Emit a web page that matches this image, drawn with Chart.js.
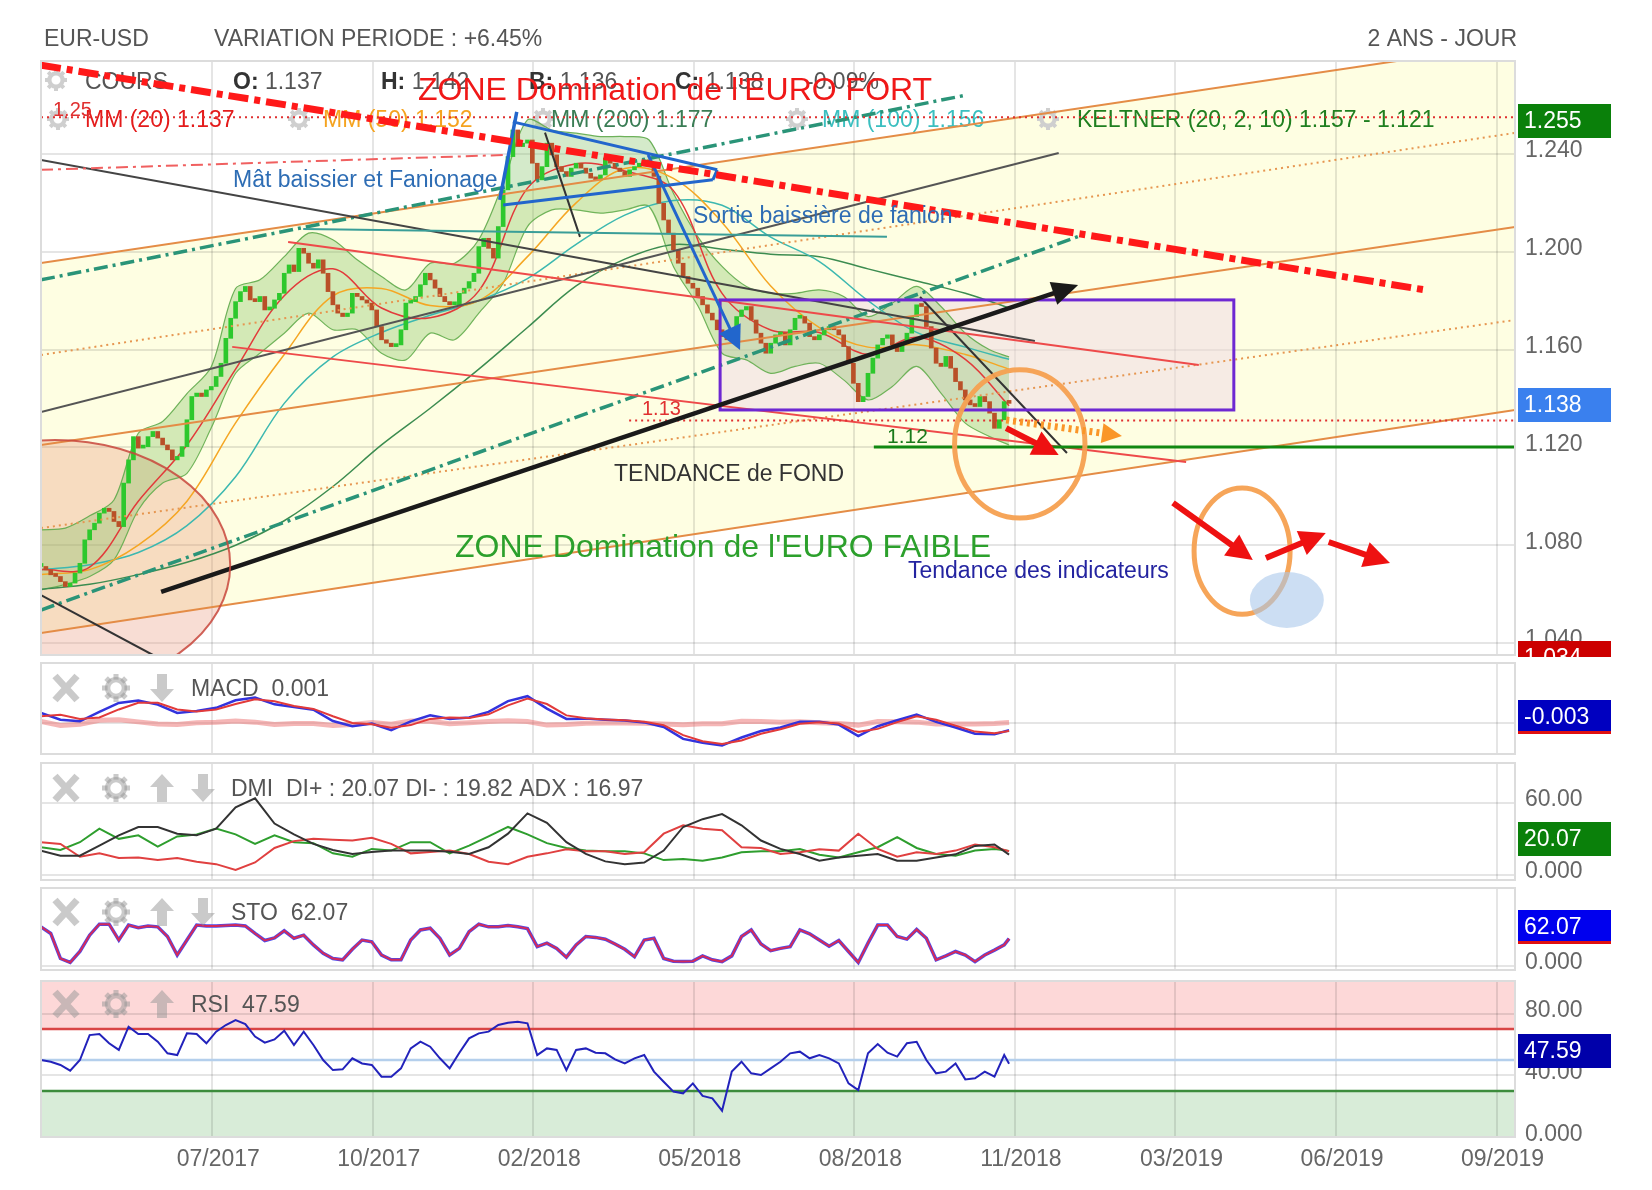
<!DOCTYPE html>
<html>
<head>
<meta charset="utf-8">
<title>EUR-USD</title>
<script src="https://cdn.jsdelivr.net/npm/chart.js@4.4.1/dist/chart.umd.min.js"></script>
<style>
  html, body { margin: 0; padding: 0; background: #fff; }
  #wrap { position: relative; width: 1652px; height: 1190px; overflow: hidden; }
  #wrap canvas { position: absolute; left: 0; top: 0; }
</style>
</head>
<body>
<div id="wrap">
  <canvas id="cMain" width="1652" height="1190"></canvas>
  <canvas id="cMacd" width="1652" height="1190"></canvas>
  <canvas id="cDmi" width="1652" height="1190"></canvas>
  <canvas id="cSto" width="1652" height="1190"></canvas>
  <canvas id="cRsi" width="1652" height="1190"></canvas>
</div>
<script>
// ---------- data (x = candle index, one candle = 2 trading days) ----------
const xLabels = ['07/2017', '10/2017', '02/2018', '05/2018', '08/2018', '11/2018', '03/2019', '06/2019', '09/2019'];
const xGrid = [35.2, 68.2, 101.2, 134.2, 167.2, 200.2, 233.2, 266.2, 299.2];
const priceTicks = [1.04, 1.08, 1.12, 1.16, 1.20, 1.24];

const closes = [
  1.0713, 1.0699, 1.0679, 1.0672, 1.0651, 1.0631, 1.0645, 1.0686, 1.0726, 1.0822,
  1.0863, 1.0890, 1.0931, 1.0951, 1.0938, 1.0897, 1.0876, 1.1054, 1.1149, 1.1244,
  1.1197, 1.1203, 1.1244, 1.1265, 1.1238, 1.1210, 1.1190, 1.1149, 1.1163, 1.1203,
  1.1313, 1.1408, 1.1422, 1.1408, 1.1435, 1.1449, 1.1490, 1.1544, 1.1646, 1.1728,
  1.1796, 1.1837, 1.1858, 1.1803, 1.1796, 1.1817, 1.1762, 1.1769, 1.1803, 1.1830,
  1.1912, 1.1946, 1.1919, 1.2014, 1.1994, 1.1953, 1.1933, 1.1967, 1.1912, 1.1837,
  1.1783, 1.1749, 1.1735, 1.1749, 1.1830, 1.1817, 1.1803, 1.1790, 1.1762, 1.1694,
  1.1640, 1.1626, 1.1612, 1.1619, 1.1681, 1.1790, 1.1796, 1.1817, 1.1865, 1.1912,
  1.1885, 1.1851, 1.1817, 1.1796, 1.1783, 1.1783, 1.1830, 1.1851, 1.1878, 1.1912,
  1.2021, 1.2055, 1.2014, 1.1974, 1.2103, 1.2253, 1.2389, 1.2498, 1.2430, 1.2444,
  1.2457, 1.2362, 1.2294, 1.2348, 1.2444, 1.2396, 1.2348, 1.2328, 1.2308, 1.2342,
  1.2362, 1.2342, 1.2321, 1.2301, 1.2294, 1.2314, 1.2383, 1.2362, 1.2342, 1.2328,
  1.2308, 1.2335, 1.2348, 1.2362, 1.2376, 1.2355, 1.2308, 1.2198, 1.2130, 1.2076,
  1.2008, 1.1953, 1.1899, 1.1871, 1.1851, 1.1817, 1.1783, 1.1749, 1.1721, 1.1681,
  1.1653, 1.1640, 1.1681, 1.1735, 1.1762, 1.1776, 1.1721, 1.1667, 1.1626, 1.1585,
  1.1626, 1.1660, 1.1667, 1.1619, 1.1681, 1.1728, 1.1735, 1.1708, 1.1653, 1.1640,
  1.1660, 1.1681, 1.1694, 1.1681, 1.1660, 1.1612, 1.1544, 1.1462, 1.1387, 1.1408,
  1.1503, 1.1565, 1.1619, 1.1646, 1.1660, 1.1619, 1.1592, 1.1626, 1.1667, 1.1735,
  1.1783, 1.1776, 1.1694, 1.1606, 1.1544, 1.1531, 1.1572, 1.1524, 1.1469, 1.1435,
  1.1394, 1.1374, 1.1367, 1.1408, 1.1387, 1.1340, 1.1278, 1.1313, 1.1387, 1.1380
];

const maIdx = [0, 10, 20, 30, 40, 50, 60, 70, 80, 90, 100, 110, 120, 130, 140, 150, 160, 170, 180, 190, 199];
const mm20 = [1.070, 1.071, 1.098, 1.121, 1.152, 1.182, 1.193, 1.177, 1.173, 1.184, 1.226, 1.236, 1.233, 1.225, 1.183, 1.168, 1.167, 1.158, 1.165, 1.156, 1.137];
const mm50 = [1.068, 1.070, 1.080, 1.098, 1.130, 1.158, 1.182, 1.185, 1.178, 1.180, 1.198, 1.220, 1.234, 1.230, 1.212, 1.186, 1.169, 1.161, 1.162, 1.158, 1.152];
const mm100 = [1.070, 1.072, 1.077, 1.088, 1.108, 1.138, 1.157, 1.167, 1.174, 1.180, 1.189, 1.203, 1.215, 1.221, 1.219, 1.206, 1.196, 1.180, 1.167, 1.161, 1.156];
const mm200 = [1.062, 1.064, 1.068, 1.073, 1.080, 1.090, 1.104, 1.121, 1.136, 1.152, 1.169, 1.186, 1.197, 1.203, 1.201, 1.199, 1.198, 1.193, 1.188, 1.183, 1.177];

const kelIdx = [0, 5, 10, 15, 20, 25, 30, 35, 40, 45, 50, 55, 60, 65, 70, 75, 80, 85, 90, 95, 100,
  105, 110, 115, 120, 125, 130, 135, 140, 145, 150, 155, 160, 165, 170, 175, 180, 185, 190, 195, 199];
const kelUp = [1.0863, 1.0870, 1.0920, 1.0985, 1.1258, 1.1306, 1.1420, 1.1530, 1.1850, 1.1885,
  1.1980, 1.2076, 1.2049, 1.1967, 1.1899, 1.1844, 1.1953, 1.1953, 1.2050, 1.2280,
  1.2539, 1.2498, 1.2485, 1.2471, 1.2471, 1.2457, 1.2239, 1.2062, 1.1940, 1.1858,
  1.1830, 1.1830, 1.1844, 1.1817, 1.1735, 1.1790, 1.1858, 1.1776, 1.1667, 1.1599, 1.1570];
const kelLow = [1.0617, 1.0640, 1.0672, 1.0740, 1.0944, 1.1054, 1.1094, 1.1280, 1.1503, 1.1585,
  1.1667, 1.1749, 1.1681, 1.1681, 1.1585, 1.1558, 1.1667, 1.1640, 1.1749, 1.1871,
  1.2103, 1.2171, 1.2171, 1.2158, 1.2171, 1.2185, 1.1940, 1.1780, 1.1585, 1.1558,
  1.1503, 1.1531, 1.1544, 1.1476, 1.1394, 1.1449, 1.1531, 1.1422, 1.1299, 1.1244, 1.1210];

// indicators sampled every 4 candles (plus last candle)
const macd = [0.0037, 0.0012, 0.0006, 0.0041, 0.0074, 0.0083, 0.0068, 0.0037, 0.0044, 0.0056,
  0.0084, 0.0094, 0.0069, 0.0059, 0.0049, 0.0007, -0.0012, -0.0002, -0.0027, 0.0006,
  0.0028, 0.0015, 0.0020, 0.0041, 0.0081, 0.0099, 0.0053, 0.0015, 0.0016, 0.0012,
  0.0009, 0.0002, -0.0015, -0.0059, -0.0073, -0.0083, -0.0054, -0.0030, -0.0017, 0.0004,
  0.0004, -0.0006, -0.0049, -0.0012, 0.0010, 0.0031, 0.0004, -0.0017, -0.0040, -0.0042, -0.0027];
const macdSignal = [0.0025, 0.0030, 0.0015, 0.0020, 0.0050, 0.0075, 0.0075, 0.0050, 0.0042, 0.0050,
  0.0070, 0.0088, 0.0080, 0.0063, 0.0052, 0.0025, 0.0000, -0.0005, -0.0018, -0.0008,
  0.0015, 0.0020, 0.0018, 0.0032, 0.0065, 0.0090, 0.0070, 0.0028, 0.0017, 0.0013,
  0.0010, 0.0004, -0.0008, -0.0045, -0.0068, -0.0078, -0.0065, -0.0040, -0.0023, -0.0003,
  0.0003, -0.0002, -0.0033, -0.0022, 0.0003, 0.0025, 0.0012, -0.0010, -0.0032, -0.0038, -0.0030];
const macdHist = [0.0006, -0.0009, -0.0005, 0.0010, 0.0012, 0.0004, -0.0004, -0.0006, 0.0001, 0.0003,
  0.0007, 0.0003, -0.0006, -0.0002, -0.0002, -0.0009, -0.0006, 0.0002, -0.0005, 0.0007,
  0.0006, -0.0003, 0.0001, 0.0005, 0.0008, 0.0005, -0.0008, -0.0006, -0.0001, 0.0000,
  0.0000, -0.0001, -0.0004, -0.0007, -0.0003, -0.0003, 0.0006, 0.0005, 0.0003, 0.0004,
  0.0001, -0.0002, -0.0008, 0.0005, 0.0004, 0.0003, -0.0004, -0.0004, -0.0004, -0.0002, 0.0002];
const adx = [20.3, 16.1, 16.1, 24.5, 33.0, 40.0, 40.0, 34.4, 33.0, 38.6,
  56.3, 63.9, 42.8, 33.8, 25.9, 20.8, 17.5, 19.2, 20.3, 20.3,
  20.3, 19.4, 17.5, 23.1, 34.4, 51.3, 43.4, 27.3, 17.5, 11.3,
  9.0, 10.4, 20.3, 40.0, 46.5, 50.7, 41.4, 28.7, 21.7, 17.5,
  11.8, 14.6, 16.1, 17.5, 11.8, 11.8, 14.6, 17.2, 24.2, 25.4, 16.97];
const diPlus = [23.1, 20.8, 27.3, 38.6, 30.1, 33.0, 23.7, 32.1, 33.8, 38.6,
  33.8, 25.9, 33.0, 27.3, 26.5, 18.0, 15.2, 21.7, 20.3, 27.3,
  27.3, 18.0, 24.5, 32.1, 40.0, 33.8, 26.5, 22.5, 20.3, 19.7,
  19.7, 18.0, 12.4, 13.2, 11.8, 14.6, 18.9, 19.7, 19.7, 21.7,
  16.9, 14.6, 18.9, 23.1, 31.5, 22.5, 17.5, 16.1, 20.3, 21.7, 20.07];
const diMinus = [27.3, 25.9, 15.2, 18.0, 14.1, 14.6, 12.4, 14.1, 11.0, 9.0,
  4.2, 10.4, 22.5, 28.2, 30.1, 29.3, 28.7, 31.0, 25.9, 18.0,
  19.2, 20.3, 17.5, 11.0, 9.0, 15.2, 18.0, 21.4, 19.7, 19.7,
  17.5, 18.9, 34.4, 41.4, 38.6, 37.2, 23.1, 22.5, 17.5, 18.9,
  21.4, 20.3, 34.4, 21.7, 15.2, 18.9, 17.5, 20.3, 25.4, 23.1, 19.82];

// indicators sampled every 2 candles (plus last candle)
const sto = [89, 74, 17, 8, 33, 70, 95, 95, 59, 93,
  87, 91, 89, 67, 25, 59, 93, 91, 91, 92,
  93, 91, 74, 58, 64, 80, 63, 70, 48, 29,
  17, 14, 38, 59, 55, 25, 14, 14, 59, 82,
  86, 63, 25, 40, 78, 95, 89, 89, 92, 89,
  85, 44, 52, 40, 20, 48, 67, 65, 61, 50,
  38, 21, 59, 63, 17, 11, 10, 11, 23, 14,
  10, 23, 67, 82, 50, 35, 40, 44, 82, 73,
  59, 45, 58, 33, 8, 52, 93, 93, 67, 61,
  83, 63, 14, 23, 33, 25, 10, 25, 36, 48, 62.07];
const rsi = [50.0, 48.9, 46.8, 43.1, 50.0, 66.1, 66.8, 60.8, 56.5, 71.5,
  66.8, 66.8, 61.8, 54.3, 53.2, 67.2, 66.8, 60.8, 68.3, 72.6,
  75.8, 73.2, 65.1, 61.2, 63.3, 68.9, 59.7, 68.3, 59.7, 50.0,
  43.5, 44.0, 51.1, 47.8, 46.8, 39.2, 39.2, 44.6, 57.5, 61.8,
  58.6, 51.1, 44.6, 54.7, 64.0, 67.2, 68.3, 72.6, 74.1, 74.7,
  73.7, 53.2, 57.5, 56.5, 43.5, 56.5, 57.5, 54.7, 54.3, 50.4,
  47.8, 51.1, 53.2, 42.5, 36.0, 29.6, 28.5, 34.9, 26.8, 25.3,
  17.3, 42.5, 48.9, 41.4, 40.3, 44.6, 48.9, 54.3, 55.4, 51.1,
  53.2, 51.1, 47.8, 34.9, 30.6, 54.3, 60.3, 54.7, 52.2, 60.8,
  61.8, 50.0, 41.4, 42.5, 47.8, 37.5, 38.2, 42.5, 39.2, 53.2, 47.59];

const ind4Idx = []; for (let k = 0; k < 50; k++) ind4Idx.push(k * 4); ind4Idx.push(199);
const ind2Idx = []; for (let k = 0; k < 100; k++) ind2Idx.push(k * 2); ind2Idx.push(199);

const ohlc = [['O:', '1.137', 233], ['H:', '1.142', 381], ['B:', '1.136', 529], ['C:', '1.138', 675]];
const legendMM = [
  ['MM (20) 1.137', '#E41B1B', 85], ['MM (50) 1.152', '#F5A31F', 323], ['MM (200) 1.177', '#3A7D55', 551],
  ['MM (100) 1.156', '#3BBFC0', 822], ['KELTNER (20, 2, 10) 1.157 - 1.121', '#1F7F1F', 1077]
];

// ---------- helpers ----------
const FONT = '"Liberation Sans", Arial, Helvetica, sans-serif';
Chart.defaults.font.family = FONT;
Chart.defaults.font.size = 23;
Chart.defaults.color = '#666';

function fnt(size, bold) { return (bold ? 'bold ' : '') + size + 'px ' + FONT; }
function txt(ctx, s, x, y, color, size, bold, align) {
  ctx.save(); ctx.font = fnt(size, bold); ctx.fillStyle = color;
  ctx.textAlign = align || 'left'; ctx.textBaseline = 'alphabetic';
  ctx.fillText(s, x, y); ctx.restore();
}
function P(c, pt) { return [c.scales.x.getPixelForValue(pt[0]), c.scales.y.getPixelForValue(pt[1])]; }
function seg(ctx, p1, p2, color, w, dash) {
  ctx.save(); ctx.strokeStyle = color; ctx.lineWidth = w; ctx.setLineDash(dash || []);
  ctx.beginPath(); ctx.moveTo(p1[0], p1[1]); ctx.lineTo(p2[0], p2[1]); ctx.stroke(); ctx.restore();
}
function arrow(ctx, p1, p2, color, w, hl, hw, dash) {
  const a = Math.atan2(p2[1] - p1[1], p2[0] - p1[0]);
  seg(ctx, p1, [p2[0] - Math.cos(a) * hl * 0.8, p2[1] - Math.sin(a) * hl * 0.8], color, w, dash);
  ctx.save(); ctx.fillStyle = color; ctx.translate(p2[0], p2[1]); ctx.rotate(a);
  ctx.beginPath(); ctx.moveTo(0, 0); ctx.lineTo(-hl, -hw); ctx.lineTo(-hl, hw); ctx.closePath(); ctx.fill();
  ctx.restore();
}
function ell(ctx, c, e, fill, stroke, w) {
  const [cx, cy] = P(c, e.c);
  const rx = c.scales.x.getPixelForValue(e.c[0] + e.rx) - cx;
  const ry = cy - c.scales.y.getPixelForValue(e.c[1] + e.ry);
  ctx.save(); ctx.beginPath(); ctx.ellipse(cx, cy, rx, ry, 0, 0, Math.PI * 2);
  if (fill) { ctx.fillStyle = fill; ctx.fill(); }
  if (stroke) { ctx.strokeStyle = stroke; ctx.lineWidth = w; ctx.stroke(); }
  ctx.restore();
}
function clipArea(ctx, a) { ctx.beginPath(); ctx.rect(a.left, a.top, a.right - a.left, a.bottom - a.top); ctx.clip(); }
function border(c) {
  const { ctx, chartArea: a } = c;
  ctx.save(); ctx.strokeStyle = '#dcdcdc'; ctx.lineWidth = 2;
  ctx.strokeRect(a.left, a.top, a.right - a.left, a.bottom - a.top); ctx.restore();
}
function gear(ctx, cx, cy, r, col) {
  ctx.save(); ctx.strokeStyle = col; ctx.fillStyle = col; ctx.lineWidth = r * 0.38;
  ctx.beginPath(); ctx.arc(cx, cy, r * 0.6, 0, Math.PI * 2); ctx.stroke();
  for (let k = 0; k < 8; k++) {
    ctx.save(); ctx.translate(cx, cy); ctx.rotate(k * Math.PI / 4);
    ctx.fillRect(-r * 0.18, -r, r * 0.36, r * 0.4); ctx.restore();
  }
  ctx.restore();
}
function cross(ctx, cx, cy, col) {
  ctx.save(); ctx.strokeStyle = col; ctx.lineWidth = 7;
  ctx.beginPath(); ctx.moveTo(cx - 11, cy - 12); ctx.lineTo(cx + 11, cy + 12);
  ctx.moveTo(cx + 11, cy - 12); ctx.lineTo(cx - 11, cy + 12); ctx.stroke(); ctx.restore();
}
function updown(ctx, cx, cy, up, col) {
  ctx.save(); ctx.fillStyle = col; ctx.translate(cx, cy); if (!up) ctx.scale(1, -1);
  ctx.beginPath(); ctx.moveTo(0, -14); ctx.lineTo(12, -1); ctx.lineTo(5, -1); ctx.lineTo(5, 14);
  ctx.lineTo(-5, 14); ctx.lineTo(-5, -1); ctx.lineTo(-12, -1); ctx.closePath(); ctx.fill(); ctx.restore();
}
function panelHead(ctx, cy, icons, label, tx) {
  const col = 'rgba(150,150,150,0.5)';
  icons.forEach((k, n) => {
    const x = [66, 116, 162, 203][n];
    if (k === 'x') cross(ctx, x, cy, col);
    else if (k === 'g') gear(ctx, x, cy, 14, col);
    else updown(ctx, x, cy, k === 'u', col);
  });
  txt(ctx, label, tx, cy + 8, '#555', 23);
}
function valueBox(ctx, b) {
  ctx.save();
  if (b.clip) { ctx.beginPath(); ctx.rect(1500, 0, 152, b.clip); ctx.clip(); }
  ctx.fillStyle = b.bg; ctx.fillRect(1518, b.top, 93, 34);
  if (b.red) { ctx.fillStyle = '#E01010'; ctx.fillRect(1518, b.top + 31, 93, 3); }
  ctx.fillStyle = '#fff'; ctx.font = fnt(23); ctx.textBaseline = 'middle';
  ctx.fillText(b.t, 1524, b.top + 18);
  ctx.restore();
}
function lineDs(xs, ys, color, w, extra) {
  return Object.assign({
    type: 'line', data: xs.map((x, k) => ({ x: x, y: ys[k] })), borderColor: color, borderWidth: w,
    pointRadius: 0, fill: false, tension: 0
  }, extra || {});
}
function opts(top, bottom, yMin, yMax, yTicks, yFmt, showX) {
  const below = 1190 - bottom;
  return {
    responsive: false, animation: false, events: [], devicePixelRatio: 1,
    layout: { padding: { left: 41, right: 0, top: top, bottom: showX ? 0 : below } },
    plugins: { legend: { display: false }, tooltip: { enabled: false } },
    scales: {
      x: {
        type: 'linear', min: 0, max: 303, offset: false,
        afterBuildTicks: s => { s.ticks = xGrid.map(v => ({ value: v })); },
        afterFit: s => { s.height = showX ? below : 0; },
        grid: { color: 'rgba(0,0,0,0.1)', lineWidth: 2, drawTicks: false, offset: false },
        border: { display: false },
        ticks: { display: showX, autoSkip: false, maxRotation: 0, padding: 9, labelOffset: 6, color: '#666',
          callback: (v, i) => xLabels[i] }
      },
      y: {
        position: 'right', min: yMin, max: yMax,
        afterBuildTicks: s => { s.ticks = yTicks.map(v => ({ value: v })); },
        afterFit: s => { s.width = 137; },
        grid: { color: 'rgba(0,0,0,0.1)', lineWidth: 2, drawTicks: false },
        border: { display: false },
        ticks: { padding: 10, labelOffset: -3, color: '#666', callback: v => yFmt(v) }
      }
    }
  };
}
const fmt2 = v => (v === 0 ? '0.000' : v.toFixed(2));

// ---------- annotations of the price panel (candle index, price) ----------
const chanSolid = [[1.1954, 1.2852], [1.1210, 1.2101], [1.0441, 1.1353]];
const chanDotted = [[1.1578, 1.2486], [1.0870, 1.1721]];
const trend = [
  { a: [0, 1.1885], b: [190.3, 1.2641], c: '#2A9478', w: 3.5, d: [14, 5, 3, 5] },
  { a: [0, 1.0535], b: [213.6, 1.2065], c: '#2A9478', w: 3.5, d: [14, 5, 3, 5] },
  { a: [0, 1.2375], b: [204.3, 1.1635], c: '#444', w: 2 },
  { a: [0, 1.1345], b: [209.2, 1.2404], c: '#555', w: 2 },
  { a: [0, 1.0596], b: [23, 1.0351], c: '#333', w: 2 },
  { a: [180.7, 1.1815], b: [210.9, 1.1177], c: '#333', w: 2 },
  { a: [103.6, 1.2487], b: [110.8, 1.2061], c: '#333', w: 2 },
  { a: [50.8, 1.2040], b: [238.0, 1.1537], c: '#EE4A4A', w: 2 },
  { a: [39.3, 1.1611], b: [235.4, 1.1140], c: '#EE4A4A', w: 2 },
  { a: [53.9, 1.2093], b: [173.9, 1.2061], c: '#3A9E98', w: 2 },
  { a: [0, 1.2335], b: [96, 1.2396], c: '#F06060', w: 2, d: [12, 5, 3, 5] },
  { a: [0, 1.255], b: [303, 1.255], c: '#E03030', w: 2, d: [2, 4] },
  { a: [120.9, 1.131], b: [303, 1.131], c: '#E03030', w: 2, d: [2, 4] },
  { a: [171.2, 1.1202], b: [303, 1.1202], c: '#118811', w: 3 },
  { a: [94.3, 1.2212], b: [97.8, 1.2572], c: '#2266CC', w: 3.5 },
  { a: [97.0, 1.2531], b: [139.0, 1.2335], c: '#2266CC', w: 3 },
  { a: [95.0, 1.2191], b: [138.1, 1.2294], c: '#2266CC', w: 3 },
  { a: [139.0, 1.2335], b: [138.1, 1.2294], c: '#2266CC', w: 3 }
];
const box = { x: [139.6, 245.2], p: [1.1353, 1.1803] };
const bigCircle = { c: [2.9, 1.0719], rx: 36.0, ry: 0.0511 };
const ring1 = { c: [201.2, 1.1214], rx: 13.4, ry: 0.0303 };
const ring2 = { c: [246.9, 1.0776], rx: 9.87, ry: 0.0258 };
const blueDot = { c: [256.1, 1.0576], rx: 7.6, ry: 0.01145 };
const redArrows = [
  [[198.4, 1.1279], [209.2, 1.1169]], [[232.7, 1.0973], [249.1, 1.0739]],
  [[251.8, 1.0748], [264.1, 1.0850]], [[264.7, 1.0813], [277.3, 1.0727]]
];

const priceDecor = {
  id: 'priceDecor',
  beforeDraw(c) {
    const { ctx, chartArea: a } = c;
    ctx.save(); clipArea(ctx, a);
    ctx.fillStyle = 'rgb(254,254,226)';
    const p1 = P(c, [0, chanSolid[0][0]]), p2 = P(c, [303, chanSolid[0][1]]);
    const p3 = P(c, [303, chanSolid[2][1]]), p4 = P(c, [0, chanSolid[2][0]]);
    ctx.beginPath(); ctx.moveTo(p1[0], p1[1]); ctx.lineTo(p2[0], p2[1]); ctx.lineTo(p3[0], p3[1]);
    ctx.lineTo(p4[0], p4[1]); ctx.closePath(); ctx.fill();
    ctx.restore();
  },
  beforeDatasetsDraw(c) {
    const { ctx, chartArea: a } = c;
    ctx.save(); clipArea(ctx, a);
    ell(ctx, c, bigCircle, 'rgba(232,150,120,0.32)', null, 0);
    const b1 = P(c, [box.x[0], box.p[1]]), b2 = P(c, [box.x[1], box.p[0]]);
    ctx.fillStyle = 'rgba(238,218,230,0.55)'; ctx.fillRect(b1[0], b1[1], b2[0] - b1[0], b2[1] - b1[1]);
    // header rows inside the panel
    gear(ctx, 56, 80, 11, '#cfcfcf');
    txt(ctx, 'COURS', 85, 89, '#555', 23);
    ohlc.forEach(([k, v, x]) => {
      txt(ctx, k, x, 89, '#333', 23, true);
      ctx.font = fnt(23, true); const w = ctx.measureText(k).width;
      txt(ctx, ' ' + v, x + w, 89, '#555', 23);
    });
    txt(ctx, '-0.09%', 806, 89, '#555', 23);
    [58, 299, 543, 797, 1048].forEach(x => gear(ctx, x, 119, 11, '#cfcfcf'));
    legendMM.forEach(([t, col, x]) => txt(ctx, t, x, 127, col, 23));
    ctx.restore();
  },
  afterDatasetsDraw(c) {
    const { ctx, chartArea: a } = c;
    ctx.save(); clipArea(ctx, a);
    chanSolid.forEach(l => seg(ctx, P(c, [0, l[0]]), P(c, [303, l[1]]), 'rgb(228,140,70)', 2));
    chanDotted.forEach(l => seg(ctx, P(c, [0, l[0]]), P(c, [303, l[1]]), 'rgb(230,150,80)', 2, [2, 4]));
    trend.forEach(t => seg(ctx, P(c, t.a), P(c, t.b), t.c, t.w, t.d));
    const b1 = P(c, [box.x[0], box.p[1]]), b2 = P(c, [box.x[1], box.p[0]]);
    ctx.strokeStyle = 'rgb(110,40,210)'; ctx.lineWidth = 3;
    ctx.strokeRect(b1[0], b1[1], b2[0] - b1[0], b2[1] - b1[1]);
    arrow(ctx, P(c, [124.8, 1.2396]), P(c, [143.7, 1.1598]), '#2266CC', 3, 24, 12);
    arrow(ctx, P(c, [24.7, 1.0609]), P(c, [213.2, 1.1864]), '#1a1a1a', 4.5, 26, 12);
    seg(ctx, P(c, [0, 1.2763]), P(c, [284.5, 1.1844]), 'rgb(255,25,25)', 7, [20, 6, 6, 6]);
    ell(ctx, c, bigCircle, null, 'rgba(200,70,60,0.85)', 2);
    ell(ctx, c, ring1, null, 'rgba(245,160,80,0.95)', 5);
    ell(ctx, c, ring2, null, 'rgba(245,160,80,0.95)', 5);
    ell(ctx, c, blueDot, 'rgba(170,200,235,0.6)', null, 0);
    redArrows.forEach(r => arrow(ctx, P(c, r[0]), P(c, r[1]), '#EE1111', 6, 26, 13));
    arrow(ctx, P(c, [198.4, 1.1312]), P(c, [222.2, 1.1247]), 'rgb(250,150,40)', 7, 20, 10, [3, 4]);
    txt(ctx, "ZONE Domination de l'EURO FORT", 418, 100, '#F01818', 32);
    txt(ctx, "ZONE Domination de l'EURO FAIBLE", 455, 557, '#2CA02C', 32);
    txt(ctx, 'TENDANCE de FOND', 614, 481, '#333', 23);
    txt(ctx, 'Mât baissier et Fanionage', 233, 187, '#2E6DB4', 23);
    txt(ctx, 'Sortie baissière de fanion', 693, 223, '#2E6DB4', 23);
    txt(ctx, 'Tendance des indicateurs', 908, 578, '#2424A0', 23);
    txt(ctx, '1.13', 642, 415, '#E03030', 20);
    txt(ctx, '1.12', 887, 443, '#1A7A1A', 21);
    txt(ctx, '1.25', 53, 116, '#E03030', 20);
    ctx.restore();
  },
  afterDraw(c) {
    const ctx = c.ctx;
    border(c);
    txt(ctx, 'EUR-USD', 44, 46, '#555', 23);
    txt(ctx, 'VARIATION PERIODE : +6.45%', 214, 46, '#555', 23);
    txt(ctx, '2 ANS - JOUR', 1517, 46, '#555', 23, false, 'right');
    valueBox(ctx, { top: 104, t: '1.255', bg: '#0A800A' });
    valueBox(ctx, { top: 388, t: '1.138', bg: '#3A80EE' });
    valueBox(ctx, { top: 641, t: '1.034', bg: '#CC0000', clip: 657 });
  }
};

// ---------- price panel ----------
const opens = closes.map((v, i) => (i ? closes[i - 1] : v));
new Chart(document.getElementById('cMain'), {
  type: 'line',
  data: {
    datasets: [
      {
        type: 'bar', data: closes.map((v, i) => ({ x: i, y: [opens[i], v] })),
        backgroundColor: closes.map((v, i) => (v >= opens[i] ? 'rgb(45,200,45)' : 'rgb(185,80,40)')),
        barThickness: 4, minBarLength: 3
      },
      lineDs(maIdx, mm20, '#E23A3A', 1.5, { tension: 0.35 }),
      lineDs(maIdx, mm50, '#F5A623', 1.5, { tension: 0.35 }),
      lineDs(maIdx, mm100, '#3CB8B0', 1.5, { tension: 0.35 }),
      lineDs(maIdx, mm200, '#3C8C50', 1.5, { tension: 0.35 }),
      lineDs(kelIdx, kelUp, 'rgba(95,170,75,0.9)', 1.2, { fill: '+1', backgroundColor: 'rgba(125,190,95,0.33)', tension: 0.3 }),
      lineDs(kelIdx, kelLow, 'rgba(95,170,75,0.9)', 1.2, { tension: 0.3 })
    ]
  },
  options: opts(61, 655, 1.0351, 1.2780, priceTicks, v => v.toFixed(3), false),
  plugins: [priceDecor]
});

// ---------- MACD ----------
new Chart(document.getElementById('cMacd'), {
  type: 'line',
  data: {
    datasets: [
      lineDs(ind4Idx, macdSignal, '#E23A3A', 2),
      lineDs(ind4Idx, macd, '#3333DD', 2.5),
      lineDs(ind4Idx, macdHist, 'rgba(235,110,110,0.5)', 5)
    ]
  },
  options: opts(663, 754, -0.0115, 0.0222, [0], () => '', false),
  plugins: [{
    id: 'macdDecor',
    afterDraw(c) {
      border(c);
      panelHead(c.ctx, 688, ['x', 'g', 'd'], 'MACD  0.001', 191);
      valueBox(c.ctx, { top: 700, t: '-0.003', bg: '#0000C0', red: true });
    }
  }]
});

// ---------- DMI ----------
new Chart(document.getElementById('cDmi'), {
  type: 'line',
  data: {
    datasets: [
      lineDs(ind4Idx, adx, '#333', 2),
      lineDs(ind4Idx, diMinus, '#E04040', 2),
      lineDs(ind4Idx, diPlus, '#2E9E2E', 2)
    ]
  },
  options: opts(763, 880, -4.2, 93.3, [0, 60], fmt2, false),
  plugins: [{
    id: 'dmiDecor',
    afterDraw(c) {
      border(c);
      panelHead(c.ctx, 788, ['x', 'g', 'u', 'd'], 'DMI  DI+ : 20.07 DI- : 19.82 ADX : 16.97', 231);
      valueBox(c.ctx, { top: 822, t: '20.07', bg: '#0A800A' });
    }
  }]
});

// ---------- STO ----------
new Chart(document.getElementById('cSto'), {
  type: 'line',
  data: {
    datasets: [
      lineDs(ind2Idx, sto, '#D42A5A', 2),
      lineDs(ind2Idx, sto, '#4A4AEE', 3.5)
    ]
  },
  options: opts(888, 970, -9.1, 177.3, [0], fmt2, false),
  plugins: [{
    id: 'stoDecor',
    afterDraw(c) {
      border(c);
      panelHead(c.ctx, 912, ['x', 'g', 'u', 'd'], 'STO  62.07', 231);
      valueBox(c.ctx, { top: 910, t: '62.07', bg: '#0000EE', red: true });
    }
  }]
});

// ---------- RSI ----------
new Chart(document.getElementById('cRsi'), {
  type: 'line',
  data: { datasets: [lineDs(ind2Idx, rsi, '#2222BB', 2)] },
  options: opts(981, 1137, 0.3, 101, [0, 40, 80], fmt2, true),
  plugins: [{
    id: 'rsiDecor',
    beforeDraw(c) {
      const { ctx, chartArea: a } = c, y = c.scales.y;
      ctx.save();
      ctx.fillStyle = 'rgb(253,216,216)'; ctx.fillRect(a.left, a.top, a.right - a.left, y.getPixelForValue(70) - a.top);
      ctx.fillStyle = 'rgb(216,236,216)'; ctx.fillRect(a.left, y.getPixelForValue(30), a.right - a.left, a.bottom - y.getPixelForValue(30));
      ctx.restore();
    },
    beforeDatasetsDraw(c) {
      const { ctx, chartArea: a } = c, y = c.scales.y;
      [[70, '#D94444'], [50, '#B4CFEC'], [30, '#3C8C3C']].forEach(([v, col]) => {
        seg(ctx, [a.left, y.getPixelForValue(v)], [a.right, y.getPixelForValue(v)], col, 2.5);
      });
    },
    afterDraw(c) {
      border(c);
      panelHead(c.ctx, 1004, ['x', 'g', 'u'], 'RSI  47.59', 191);
      valueBox(c.ctx, { top: 1034, t: '47.59', bg: '#0000AA' });
    }
  }]
});
</script>
</body>
</html>
